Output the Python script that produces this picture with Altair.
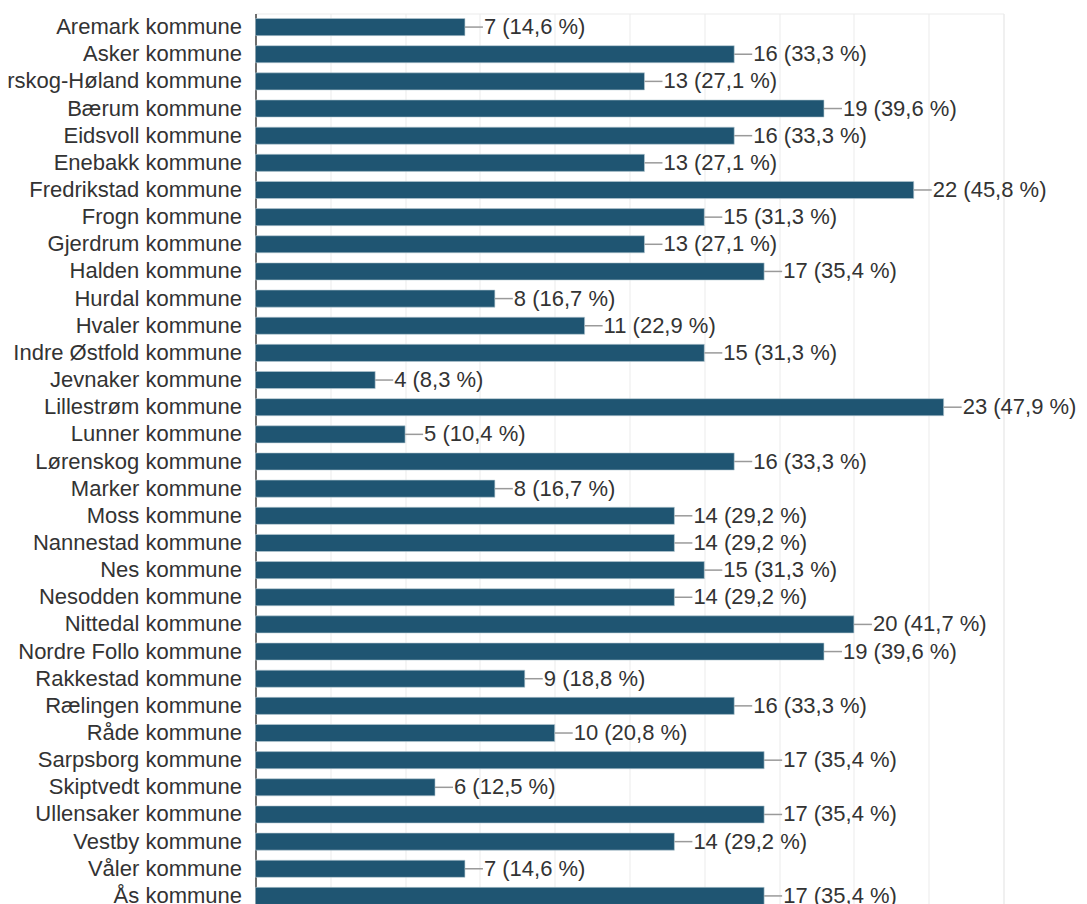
import altair as alt
import pandas as pd

kommuner = [
    "Aremark kommune", "Asker kommune", "Aurskog-Høland kommune", "Bærum kommune",
    "Eidsvoll kommune", "Enebakk kommune", "Fredrikstad kommune", "Frogn kommune",
    "Gjerdrum kommune", "Halden kommune", "Hurdal kommune", "Hvaler kommune",
    "Indre Østfold kommune", "Jevnaker kommune", "Lillestrøm kommune", "Lunner kommune",
    "Lørenskog kommune", "Marker kommune", "Moss kommune", "Nannestad kommune",
    "Nes kommune", "Nesodden kommune", "Nittedal kommune", "Nordre Follo kommune",
    "Rakkestad kommune", "Rælingen kommune", "Råde kommune", "Sarpsborg kommune",
    "Skiptvedt kommune", "Ullensaker kommune", "Vestby kommune", "Våler kommune",
    "Ås kommune",
]
antall = [7, 16, 13, 19, 16, 13, 22, 15, 13, 17, 8, 11, 15, 4, 23, 5, 16, 8, 14, 14,
          15, 14, 20, 19, 9, 16, 10, 17, 6, 17, 14, 7, 17]
prosent = ["14,6", "33,3", "27,1", "39,6", "33,3", "27,1", "45,8", "31,3", "27,1", "35,4",
           "16,7", "22,9", "31,3", "8,3", "47,9", "10,4", "33,3", "16,7", "29,2", "29,2",
           "31,3", "29,2", "41,7", "39,6", "18,8", "33,3", "20,8", "35,4", "12,5", "35,4",
           "29,2", "14,6", "35,4"]
grid_values = [0, 2.5, 5, 7.5, 10, 12.5, 15, 17.5, 20, 22.5, 25]

df = pd.DataFrame({
    "kommune": kommuner,
    "antall": antall,
    "etikett": [f"{a} ({p} %)" for a, p in zip(antall, prosent)],
})

FONT = "Liberation Sans"

x = alt.X("antall:Q", scale=alt.Scale(domain=[0, 25], nice=False, zero=True),
          axis=alt.Axis(values=grid_values, labels=False, ticks=False, domain=False,
                        grid=True, gridColor="#ebebeb", gridWidth=1, title=None))
y = alt.Y("kommune:N", sort=None,
          scale=alt.Scale(paddingInner=0.37, paddingOuter=0.185),
          axis=alt.Axis(title=None, ticks=False, labelFontSize=22, labelFont=FONT,
                        labelColor="#333333", labelPadding=14, labelLimit=0,
                        domain=True, domainColor="#444444", domainWidth=1.5,
                        grid=False))

bars = alt.Chart(df).mark_bar(color="#1f5572", stroke="#b9cbd4", strokeWidth=0.6).encode(
    x=x, y=y)

leader = alt.Chart(df).mark_rule(color="#9a9a9a", strokeWidth=1.5, x2Offset=18).encode(
    x="antall:Q", x2="antall:Q", y=alt.Y("kommune:N", sort=None))

labels = alt.Chart(df).mark_text(align="left", baseline="middle", dx=19, fontSize=22,
                                 font=FONT, color="#333333").encode(
    x="antall:Q", y=alt.Y("kommune:N", sort=None), text="etikett:N")

chart = (bars + leader + labels).properties(
    width=748, height=896,
    autosize=alt.AutoSizeParams(type="none"),
    padding={"left": 247.5, "top": 5.5, "right": 75, "bottom": 5},
).configure_view(stroke="#ebebeb", strokeWidth=1)

chart.save("out.html", embed_options={"renderer": "svg", "actions": False})
